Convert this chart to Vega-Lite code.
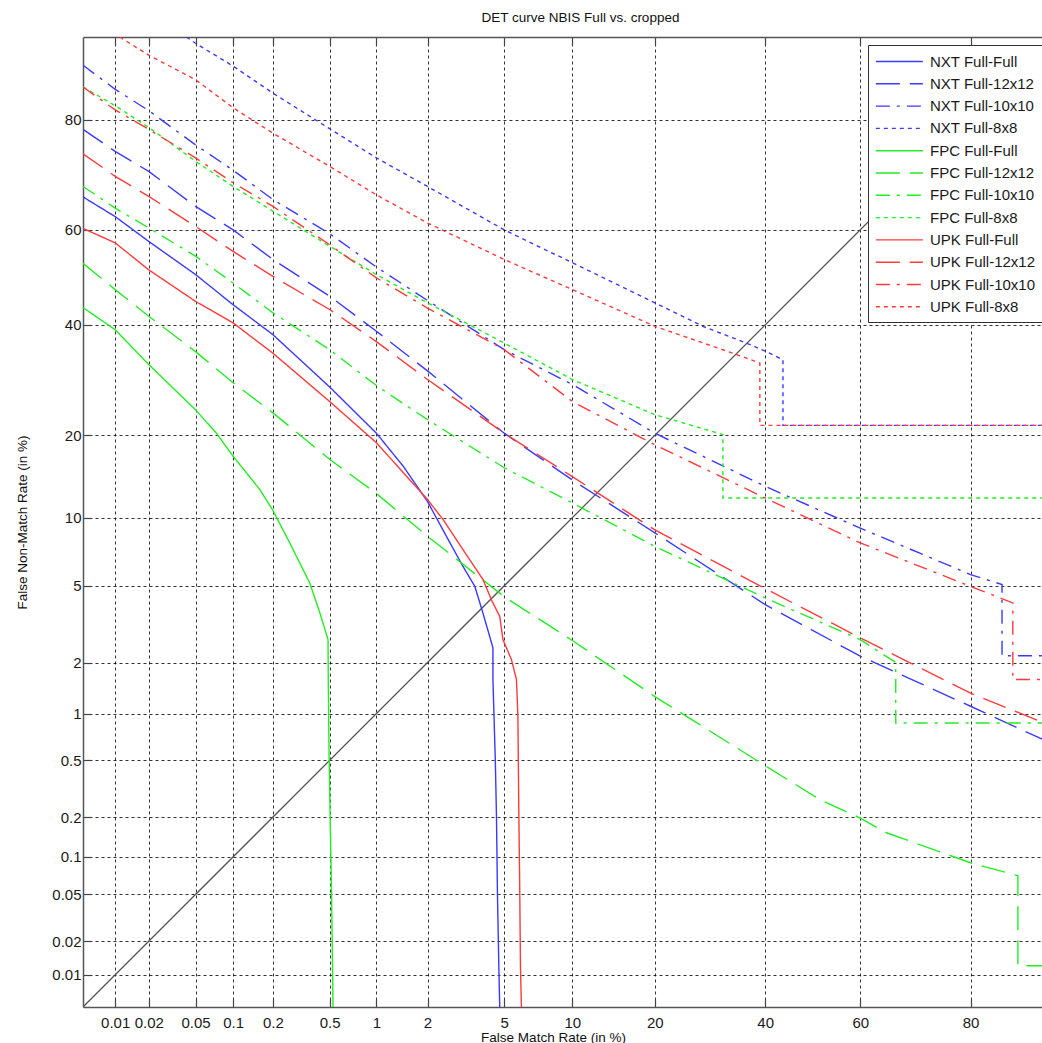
{
  "$schema": "https://vega.github.io/schema/vega-lite/v6.json",
  "width": 959,
  "height": 970,
  "autosize": {"type": "none"},
  "padding": {"left": 83, "top": 37, "right": 0, "bottom": 36},
  "background": "white",
  "title": {"text": "DET curve NBIS Full vs. cropped", "font": "Liberation Sans", "fontSize": 13.5, "fontWeight": "normal", "color": "#111", "anchor": "middle", "offset": 12, "dx": 18},
  "config": {
    "view": {"stroke": null},
    "axis": {"labelFont": "Liberation Sans", "labelFontSize": 15, "labelColor": "#1a1a1a", "titleFont": "Liberation Sans", "titleFontSize": 13.5, "titleFontWeight": "normal", "titleColor": "#111", "domainColor": "#555", "domainWidth": 1.5, "tickColor": "#444", "tickWidth": 1.2}
  },
  "datasets": {
    "diag": [{"fmr": 0.005, "fnmr": 0.005}, {"fmr": 90, "fnmr": 90}],
    "curves": [
      {"series": "NXT Full-Full", "fmr": 0.005, "fnmr": 66.6},
      {"series": "NXT Full-Full", "fmr": 0.01, "fnmr": 62.7},
      {"series": "NXT Full-Full", "fmr": 0.02, "fnmr": 57.6},
      {"series": "NXT Full-Full", "fmr": 0.05, "fnmr": 50.6},
      {"series": "NXT Full-Full", "fmr": 0.1, "fnmr": 44.2},
      {"series": "NXT Full-Full", "fmr": 0.2, "fnmr": 38.0},
      {"series": "NXT Full-Full", "fmr": 0.5, "fnmr": 27.95},
      {"series": "NXT Full-Full", "fmr": 1, "fnmr": 20.3},
      {"series": "NXT Full-Full", "fmr": 1.45, "fnmr": 15.7},
      {"series": "NXT Full-Full", "fmr": 2, "fnmr": 11.6},
      {"series": "NXT Full-Full", "fmr": 2.54, "fnmr": 8.37},
      {"series": "NXT Full-Full", "fmr": 3.11, "fnmr": 6.17},
      {"series": "NXT Full-Full", "fmr": 3.58, "fnmr": 4.97},
      {"series": "NXT Full-Full", "fmr": 3.89, "fnmr": 3.82},
      {"series": "NXT Full-Full", "fmr": 4.25, "fnmr": 2.78},
      {"series": "NXT Full-Full", "fmr": 4.41, "fnmr": 2.41},
      {"series": "NXT Full-Full", "fmr": 4.41, "fnmr": 1.6},
      {"series": "NXT Full-Full", "fmr": 4.46, "fnmr": 1.0},
      {"series": "NXT Full-Full", "fmr": 4.53, "fnmr": 0.5},
      {"series": "NXT Full-Full", "fmr": 4.59, "fnmr": 0.2},
      {"series": "NXT Full-Full", "fmr": 4.64, "fnmr": 0.05},
      {"series": "NXT Full-Full", "fmr": 4.72, "fnmr": 0.01},
      {"series": "NXT Full-Full", "fmr": 4.76, "fnmr": 0.005},

      {"series": "NXT Full-12x12", "fmr": 0.005, "fnmr": 78.5},
      {"series": "NXT Full-12x12", "fmr": 0.01, "fnmr": 74.9},
      {"series": "NXT Full-12x12", "fmr": 0.02, "fnmr": 71.4},
      {"series": "NXT Full-12x12", "fmr": 0.05, "fnmr": 64.75},
      {"series": "NXT Full-12x12", "fmr": 0.1, "fnmr": 60.0},
      {"series": "NXT Full-12x12", "fmr": 0.2, "fnmr": 53.8},
      {"series": "NXT Full-12x12", "fmr": 0.5, "fnmr": 46.0},
      {"series": "NXT Full-12x12", "fmr": 1, "fnmr": 38.7},
      {"series": "NXT Full-12x12", "fmr": 2, "fnmr": 30.9},
      {"series": "NXT Full-12x12", "fmr": 5, "fnmr": 20.3},
      {"series": "NXT Full-12x12", "fmr": 10, "fnmr": 14.0},
      {"series": "NXT Full-12x12", "fmr": 20, "fnmr": 8.65},
      {"series": "NXT Full-12x12", "fmr": 40, "fnmr": 4.05},
      {"series": "NXT Full-12x12", "fmr": 60, "fnmr": 2.17},
      {"series": "NXT Full-12x12", "fmr": 80, "fnmr": 1.11},
      {"series": "NXT Full-12x12", "fmr": 90, "fnmr": 0.64},

      {"series": "NXT Full-10x10", "fmr": 0.005, "fnmr": 87.1},
      {"series": "NXT Full-10x10", "fmr": 0.01, "fnmr": 84.2},
      {"series": "NXT Full-10x10", "fmr": 0.02, "fnmr": 81.3},
      {"series": "NXT Full-10x10", "fmr": 0.05, "fnmr": 76.0},
      {"series": "NXT Full-10x10", "fmr": 0.1, "fnmr": 71.6},
      {"series": "NXT Full-10x10", "fmr": 0.2, "fnmr": 66.1},
      {"series": "NXT Full-10x10", "fmr": 0.5, "fnmr": 59.2},
      {"series": "NXT Full-10x10", "fmr": 1, "fnmr": 52.2},
      {"series": "NXT Full-10x10", "fmr": 2, "fnmr": 45.1},
      {"series": "NXT Full-10x10", "fmr": 5, "fnmr": 35.0},
      {"series": "NXT Full-10x10", "fmr": 10, "fnmr": 28.4},
      {"series": "NXT Full-10x10", "fmr": 20, "fnmr": 20.3},
      {"series": "NXT Full-10x10", "fmr": 40, "fnmr": 13.26},
      {"series": "NXT Full-10x10", "fmr": 60, "fnmr": 9.06},
      {"series": "NXT Full-10x10", "fmr": 80, "fnmr": 5.65},
      {"series": "NXT Full-10x10", "fmr": 84.36, "fnmr": 5.07},
      {"series": "NXT Full-10x10", "fmr": 84.36, "fnmr": 2.18},
      {"series": "NXT Full-10x10", "fmr": 90, "fnmr": 2.18},

      {"series": "NXT Full-8x8", "fmr": 0.042, "fnmr": 90},
      {"series": "NXT Full-8x8", "fmr": 0.05, "fnmr": 89.4},
      {"series": "NXT Full-8x8", "fmr": 0.1, "fnmr": 87.0},
      {"series": "NXT Full-8x8", "fmr": 0.2, "fnmr": 83.7},
      {"series": "NXT Full-8x8", "fmr": 0.5, "fnmr": 78.6},
      {"series": "NXT Full-8x8", "fmr": 1, "fnmr": 73.8},
      {"series": "NXT Full-8x8", "fmr": 2, "fnmr": 68.6},
      {"series": "NXT Full-8x8", "fmr": 5, "fnmr": 60.0},
      {"series": "NXT Full-8x8", "fmr": 10, "fnmr": 53.1},
      {"series": "NXT Full-8x8", "fmr": 20, "fnmr": 44.6},
      {"series": "NXT Full-8x8", "fmr": 27.9, "fnmr": 39.7},
      {"series": "NXT Full-8x8", "fmr": 36.2, "fnmr": 36.3},
      {"series": "NXT Full-8x8", "fmr": 40, "fnmr": 34.7},
      {"series": "NXT Full-8x8", "fmr": 43.7, "fnmr": 33.0},
      {"series": "NXT Full-8x8", "fmr": 43.7, "fnmr": 21.5},
      {"series": "NXT Full-8x8", "fmr": 90, "fnmr": 21.5},

      {"series": "FPC Full-Full", "fmr": 0.005, "fnmr": 43.6},
      {"series": "FPC Full-Full", "fmr": 0.01, "fnmr": 39.0},
      {"series": "FPC Full-Full", "fmr": 0.02, "fnmr": 32.1},
      {"series": "FPC Full-Full", "fmr": 0.05, "fnmr": 24.0},
      {"series": "FPC Full-Full", "fmr": 0.0738, "fnmr": 20.3},
      {"series": "FPC Full-Full", "fmr": 0.1, "fnmr": 17.0},
      {"series": "FPC Full-Full", "fmr": 0.16, "fnmr": 12.9},
      {"series": "FPC Full-Full", "fmr": 0.2, "fnmr": 10.7},
      {"series": "FPC Full-Full", "fmr": 0.265, "fnmr": 7.84},
      {"series": "FPC Full-Full", "fmr": 0.366, "fnmr": 5.16},
      {"series": "FPC Full-Full", "fmr": 0.43, "fnmr": 3.68},
      {"series": "FPC Full-Full", "fmr": 0.488, "fnmr": 2.67},
      {"series": "FPC Full-Full", "fmr": 0.49, "fnmr": 1.6},
      {"series": "FPC Full-Full", "fmr": 0.4955, "fnmr": 0.59},
      {"series": "FPC Full-Full", "fmr": 0.505, "fnmr": 0.181},
      {"series": "FPC Full-Full", "fmr": 0.516, "fnmr": 0.048},
      {"series": "FPC Full-Full", "fmr": 0.527, "fnmr": 0.005},

      {"series": "FPC Full-12x12", "fmr": 0.005, "fnmr": 53.0},
      {"series": "FPC Full-12x12", "fmr": 0.01, "fnmr": 47.4},
      {"series": "FPC Full-12x12", "fmr": 0.02, "fnmr": 41.8},
      {"series": "FPC Full-12x12", "fmr": 0.05, "fnmr": 34.6},
      {"series": "FPC Full-12x12", "fmr": 0.1, "fnmr": 28.7},
      {"series": "FPC Full-12x12", "fmr": 0.2, "fnmr": 23.5},
      {"series": "FPC Full-12x12", "fmr": 0.5, "fnmr": 16.6},
      {"series": "FPC Full-12x12", "fmr": 1, "fnmr": 12.45},
      {"series": "FPC Full-12x12", "fmr": 2, "fnmr": 8.37},
      {"series": "FPC Full-12x12", "fmr": 5, "fnmr": 4.43},
      {"series": "FPC Full-12x12", "fmr": 10, "fnmr": 2.64},
      {"series": "FPC Full-12x12", "fmr": 20, "fnmr": 1.27},
      {"series": "FPC Full-12x12", "fmr": 40, "fnmr": 0.461},
      {"series": "FPC Full-12x12", "fmr": 51.5, "fnmr": 0.268},
      {"series": "FPC Full-12x12", "fmr": 60, "fnmr": 0.197},
      {"series": "FPC Full-12x12", "fmr": 65.3, "fnmr": 0.153},
      {"series": "FPC Full-12x12", "fmr": 80, "fnmr": 0.09},
      {"series": "FPC Full-12x12", "fmr": 86.3, "fnmr": 0.071},
      {"series": "FPC Full-12x12", "fmr": 86.3, "fnmr": 0.0121},
      {"series": "FPC Full-12x12", "fmr": 90, "fnmr": 0.0121},

      {"series": "FPC Full-10x10", "fmr": 0.005, "fnmr": 68.6},
      {"series": "FPC Full-10x10", "fmr": 0.01, "fnmr": 64.4},
      {"series": "FPC Full-10x10", "fmr": 0.02, "fnmr": 60.4},
      {"series": "FPC Full-10x10", "fmr": 0.05, "fnmr": 54.5},
      {"series": "FPC Full-10x10", "fmr": 0.1, "fnmr": 48.8},
      {"series": "FPC Full-10x10", "fmr": 0.2, "fnmr": 42.5},
      {"series": "FPC Full-10x10", "fmr": 0.5, "fnmr": 35.0},
      {"series": "FPC Full-10x10", "fmr": 1, "fnmr": 28.2},
      {"series": "FPC Full-10x10", "fmr": 2, "fnmr": 22.4},
      {"series": "FPC Full-10x10", "fmr": 5, "fnmr": 15.5},
      {"series": "FPC Full-10x10", "fmr": 10, "fnmr": 11.45},
      {"series": "FPC Full-10x10", "fmr": 20, "fnmr": 7.57},
      {"series": "FPC Full-10x10", "fmr": 40, "fnmr": 4.37},
      {"series": "FPC Full-10x10", "fmr": 60, "fnmr": 2.67},
      {"series": "FPC Full-10x10", "fmr": 67.1, "fnmr": 2.0},
      {"series": "FPC Full-10x10", "fmr": 67.1, "fnmr": 0.875},
      {"series": "FPC Full-10x10", "fmr": 90, "fnmr": 0.875},

      {"series": "FPC Full-8x8", "fmr": 0.005, "fnmr": 84.5},
      {"series": "FPC Full-8x8", "fmr": 0.01, "fnmr": 82.0},
      {"series": "FPC Full-8x8", "fmr": 0.02, "fnmr": 78.8},
      {"series": "FPC Full-8x8", "fmr": 0.05, "fnmr": 73.2},
      {"series": "FPC Full-8x8", "fmr": 0.1, "fnmr": 68.6},
      {"series": "FPC Full-8x8", "fmr": 0.2, "fnmr": 63.8},
      {"series": "FPC Full-8x8", "fmr": 0.5, "fnmr": 56.6},
      {"series": "FPC Full-8x8", "fmr": 1, "fnmr": 50.6},
      {"series": "FPC Full-8x8", "fmr": 2, "fnmr": 44.6},
      {"series": "FPC Full-8x8", "fmr": 5, "fnmr": 36.3},
      {"series": "FPC Full-8x8", "fmr": 10, "fnmr": 29.3},
      {"series": "FPC Full-8x8", "fmr": 20, "fnmr": 23.2},
      {"series": "FPC Full-8x8", "fmr": 31.6, "fnmr": 20.1},
      {"series": "FPC Full-8x8", "fmr": 31.6, "fnmr": 11.97},
      {"series": "FPC Full-8x8", "fmr": 90, "fnmr": 11.97},

      {"series": "UPK Full-Full", "fmr": 0.005, "fnmr": 60.3},
      {"series": "UPK Full-Full", "fmr": 0.01, "fnmr": 57.3},
      {"series": "UPK Full-Full", "fmr": 0.02, "fnmr": 51.6},
      {"series": "UPK Full-Full", "fmr": 0.05, "fnmr": 44.9},
      {"series": "UPK Full-Full", "fmr": 0.1, "fnmr": 40.4},
      {"series": "UPK Full-Full", "fmr": 0.2, "fnmr": 34.3},
      {"series": "UPK Full-Full", "fmr": 0.5, "fnmr": 25.4},
      {"series": "UPK Full-Full", "fmr": 1, "fnmr": 18.9},
      {"series": "UPK Full-Full", "fmr": 2, "fnmr": 11.8},
      {"series": "UPK Full-Full", "fmr": 2.44, "fnmr": 9.82},
      {"series": "UPK Full-Full", "fmr": 3.11, "fnmr": 7.33},
      {"series": "UPK Full-Full", "fmr": 3.94, "fnmr": 5.35},
      {"series": "UPK Full-Full", "fmr": 4.33, "fnmr": 4.29},
      {"series": "UPK Full-Full", "fmr": 4.76, "fnmr": 3.53},
      {"series": "UPK Full-Full", "fmr": 4.93, "fnmr": 2.67},
      {"series": "UPK Full-Full", "fmr": 5.41, "fnmr": 2.08},
      {"series": "UPK Full-Full", "fmr": 5.71, "fnmr": 1.6},
      {"series": "UPK Full-Full", "fmr": 5.8, "fnmr": 0.96},
      {"series": "UPK Full-Full", "fmr": 5.85, "fnmr": 0.254},
      {"series": "UPK Full-Full", "fmr": 5.91, "fnmr": 0.062},
      {"series": "UPK Full-Full", "fmr": 5.96, "fnmr": 0.0119},
      {"series": "UPK Full-Full", "fmr": 6.02, "fnmr": 0.005},

      {"series": "UPK Full-12x12", "fmr": 0.005, "fnmr": 74.5},
      {"series": "UPK Full-12x12", "fmr": 0.01, "fnmr": 70.5},
      {"series": "UPK Full-12x12", "fmr": 0.02, "fnmr": 66.7},
      {"series": "UPK Full-12x12", "fmr": 0.05, "fnmr": 60.7},
      {"series": "UPK Full-12x12", "fmr": 0.1, "fnmr": 55.5},
      {"series": "UPK Full-12x12", "fmr": 0.2, "fnmr": 50.2},
      {"series": "UPK Full-12x12", "fmr": 0.5, "fnmr": 43.2},
      {"series": "UPK Full-12x12", "fmr": 1, "fnmr": 36.6},
      {"series": "UPK Full-12x12", "fmr": 2, "fnmr": 29.3},
      {"series": "UPK Full-12x12", "fmr": 5, "fnmr": 20.3},
      {"series": "UPK Full-12x12", "fmr": 10, "fnmr": 14.4},
      {"series": "UPK Full-12x12", "fmr": 20, "fnmr": 8.9},
      {"series": "UPK Full-12x12", "fmr": 40, "fnmr": 4.85},
      {"series": "UPK Full-12x12", "fmr": 60, "fnmr": 2.73},
      {"series": "UPK Full-12x12", "fmr": 80, "fnmr": 1.33},
      {"series": "UPK Full-12x12", "fmr": 90, "fnmr": 0.83},

      {"series": "UPK Full-10x10", "fmr": 0.005, "fnmr": 84.5},
      {"series": "UPK Full-10x10", "fmr": 0.01, "fnmr": 81.4},
      {"series": "UPK Full-10x10", "fmr": 0.02, "fnmr": 78.5},
      {"series": "UPK Full-10x10", "fmr": 0.05, "fnmr": 73.8},
      {"series": "UPK Full-10x10", "fmr": 0.1, "fnmr": 69.3},
      {"series": "UPK Full-10x10", "fmr": 0.2, "fnmr": 64.75},
      {"series": "UPK Full-10x10", "fmr": 0.5, "fnmr": 56.9},
      {"series": "UPK Full-10x10", "fmr": 1, "fnmr": 49.9},
      {"series": "UPK Full-10x10", "fmr": 2, "fnmr": 43.5},
      {"series": "UPK Full-10x10", "fmr": 5, "fnmr": 35.0},
      {"series": "UPK Full-10x10", "fmr": 10, "fnmr": 25.4},
      {"series": "UPK Full-10x10", "fmr": 20, "fnmr": 18.6},
      {"series": "UPK Full-10x10", "fmr": 40, "fnmr": 11.97},
      {"series": "UPK Full-10x10", "fmr": 60, "fnmr": 7.84},
      {"series": "UPK Full-10x10", "fmr": 80, "fnmr": 4.97},
      {"series": "UPK Full-10x10", "fmr": 85.7, "fnmr": 4.13},
      {"series": "UPK Full-10x10", "fmr": 85.7, "fnmr": 1.6},
      {"series": "UPK Full-10x10", "fmr": 90, "fnmr": 1.6},

      {"series": "UPK Full-8x8", "fmr": 0.011, "fnmr": 90},
      {"series": "UPK Full-8x8", "fmr": 0.02, "fnmr": 88.2},
      {"series": "UPK Full-8x8", "fmr": 0.05, "fnmr": 85.4},
      {"series": "UPK Full-8x8", "fmr": 0.1, "fnmr": 81.7},
      {"series": "UPK Full-8x8", "fmr": 0.2, "fnmr": 77.9},
      {"series": "UPK Full-8x8", "fmr": 0.5, "fnmr": 72.3},
      {"series": "UPK Full-8x8", "fmr": 1, "fnmr": 67.0},
      {"series": "UPK Full-8x8", "fmr": 2, "fnmr": 61.4},
      {"series": "UPK Full-8x8", "fmr": 5, "fnmr": 53.8},
      {"series": "UPK Full-8x8", "fmr": 10, "fnmr": 47.4},
      {"series": "UPK Full-8x8", "fmr": 20, "fnmr": 39.7},
      {"series": "UPK Full-8x8", "fmr": 33.5, "fnmr": 34.3},
      {"series": "UPK Full-8x8", "fmr": 38.9, "fnmr": 32.4},
      {"series": "UPK Full-8x8", "fmr": 38.9, "fnmr": 21.5},
      {"series": "UPK Full-8x8", "fmr": 90, "fnmr": 21.5}
    ]
  },
  "resolve": {"axis": {"x": "independent"}},
  "layer": [
    {
      "data": {"name": "diag"},
      "transform": [
        {"calculate": "quantileNormal(datum.fmr / 100)", "as": "zx"},
        {"calculate": "quantileNormal(datum.fnmr / 100)", "as": "zy"}
      ],
      "mark": {"type": "line", "color": "#555", "strokeWidth": 1.3, "clip": true},
      "encoding": {
        "x": {"field": "zx", "type": "quantitative", "scale": {"domain": [-3.8906, 1.2225], "nice": false, "zero": false},
          "axis": {"orient": "top", "values": [-3.71902, -3.54008, -3.29053, -3.09023, -2.87816, -2.57583, -2.32635, -2.05375, -1.64485, -1.28155, -0.84162, -0.25335, 0.25335, 0.84162], "labels": false, "title": null, "grid": false, "tickSize": -8}},
        "y": {"field": "zy", "type": "quantitative", "scale": {"domain": [-3.8906, 1.2816], "nice": false, "zero": false}}
      }
    },
    {
      "data": {"name": "curves"},
      "transform": [
        {"calculate": "quantileNormal(datum.fmr / 100)", "as": "zx"},
        {"calculate": "quantileNormal(datum.fnmr / 100)", "as": "zy"}
      ],
      "mark": {"type": "line", "strokeWidth": 1.4, "clip": true},
      "encoding": {
        "x": {"field": "zx", "type": "quantitative", "scale": {"domain": [-3.8906, 1.2225], "nice": false, "zero": false},
          "axis": {"orient": "bottom", "values": [-3.71902, -3.54008, -3.29053, -3.09023, -2.87816, -2.57583, -2.32635, -2.05375, -1.64485, -1.28155, -0.84162, -0.25335, 0.25335, 0.84162],
            "labelExpr": "format(cumulativeNormal(datum.value) * 100, '.1~r')", "grid": true, "gridDash": [3, 3], "gridColor": "#000", "gridOpacity": 0.8, "tickSize": -8, "labelPadding": 16,
            "title": "False Match Rate (in %)", "titleX": 470, "titlePadding": 0}},
        "y": {"field": "zy", "type": "quantitative", "scale": {"domain": [-3.8906, 1.2816], "nice": false, "zero": false},
          "axis": {"orient": "left", "values": [-3.71902, -3.54008, -3.29053, -3.09023, -2.87816, -2.57583, -2.32635, -2.05375, -1.64485, -1.28155, -0.84162, -0.25335, 0.25335, 0.84162],
            "labelExpr": "format(cumulativeNormal(datum.value) * 100, '.1~r')", "grid": true, "gridDash": [3, 3], "gridColor": "#000", "gridOpacity": 0.8, "tickSize": -8, "labelPadding": 10,
            "title": "False Non-Match Rate (in %)", "titleX": -61, "titleY": 485, "titleAngle": -90, "titleAlign": "center", "titleBaseline": "middle"}},
        "color": {"field": "series", "type": "nominal",
          "scale": {"domain": ["NXT Full-Full", "NXT Full-12x12", "NXT Full-10x10", "NXT Full-8x8", "FPC Full-Full", "FPC Full-12x12", "FPC Full-10x10", "FPC Full-8x8", "UPK Full-Full", "UPK Full-12x12", "UPK Full-10x10", "UPK Full-8x8"],
            "range": ["#3a3aff", "#3a3aff", "#3a3aff", "#3a3aff", "#22ee22", "#22ee22", "#22ee22", "#22ee22", "#ff3a3a", "#ff3a3a", "#ff3a3a", "#ff3a3a"]},
          "legend": {"orient": "none", "legendX": 785, "legendY": 8, "title": null, "symbolType": "M-1,0H4.43", "symbolSize": 300, "symbolStrokeWidth": 1.4, "labelFont": "Liberation Sans", "labelFontSize": 15, "labelColor": "#1a1a1a", "rowPadding": 4.3, "padding": 7, "fillColor": "white", "strokeColor": "#333", "labelOffset": 36, "labelLimit": 300}},
        "strokeDash": {"field": "series", "type": "nominal",
          "scale": {"domain": ["NXT Full-Full", "NXT Full-12x12", "NXT Full-10x10", "NXT Full-8x8", "FPC Full-Full", "FPC Full-12x12", "FPC Full-10x10", "FPC Full-8x8", "UPK Full-Full", "UPK Full-12x12", "UPK Full-10x10", "UPK Full-8x8"],
            "range": [[1, 0], [24, 10], [14, 7, 3, 7], [4, 4], [1, 0], [24, 10], [14, 7, 3, 7], [4, 4], [1, 0], [24, 10], [14, 7, 3, 7], [4, 4]]},
          "legend": {"orient": "none", "legendX": 785, "legendY": 8, "title": null, "symbolType": "M-1,0H4.43", "symbolSize": 300, "symbolStrokeWidth": 1.4, "labelFont": "Liberation Sans", "labelFontSize": 15, "labelColor": "#1a1a1a", "rowPadding": 4.3, "padding": 7, "fillColor": "white", "strokeColor": "#333", "labelOffset": 36, "labelLimit": 300}},
        "order": [{"field": "fmr", "type": "quantitative"}, {"field": "fnmr", "type": "quantitative", "sort": "descending"}]
      }
    }
  ]
}
